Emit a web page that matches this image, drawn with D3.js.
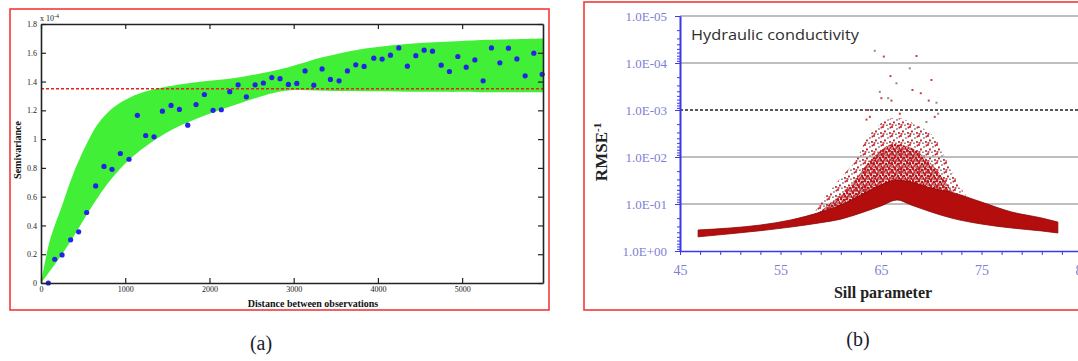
<!DOCTYPE html>
<html><head><meta charset="utf-8">
<script src="https://cdn.jsdelivr.net/npm/d3@7"></script>
<style>body{margin:0;background:#fff;overflow:hidden} svg{display:block}</style>
</head><body><svg id="c" width="1078" height="361"></svg>
<script>
// ---------- Panel (a): semivariogram ----------
const aXTicks = [0, 1000, 2000, 3000, 4000, 5000];
const aYTicks = [0, 0.2, 0.4, 0.6, 0.8, 1, 1.2, 1.4, 1.6, 1.8];
// empirical semivariance (x 1e-4)
const lagDist = [87,163,250,352,447,542,649,748,843,942,1045,1144,1243,1342,1441,1544,1643,1742,1841,1940,2043,2141,2241,2340,2438,2542,2640,2740,2838,2937,3037,3135,3239,3337,3436,3539,3638,3737,3836,3951,4050,4149,4248,4350,4450,4549,4648,4751,4849,4949,5048,5151,5249,5348,5448,5550,5650,5748,5851,5950];
const semivar = [0.00,0.165,0.195,0.30,0.356,0.49,0.675,0.81,0.79,0.90,0.86,1.165,1.025,1.016,1.194,1.234,1.206,1.097,1.24,1.31,1.20,1.204,1.33,1.377,1.294,1.377,1.39,1.428,1.42,1.38,1.387,1.474,1.375,1.488,1.415,1.405,1.474,1.516,1.505,1.5625,1.556,1.583,1.634,1.507,1.58,1.618,1.611,1.514,1.47,1.574,1.50,1.55,1.405,1.634,1.53,1.632,1.557,1.44,1.597,1.45];
// envelope of the fitted model curves (green band)
const bandUpX = [0,107,245,384,562,681,859,1057,1295,1770,2363,2937,3353,3749,4145,4540,4937,5333,5960];
const bandUpY = [0,0.30,0.53,0.76,0.99,1.11,1.22,1.29,1.34,1.39,1.43,1.50,1.57,1.62,1.65,1.67,1.68,1.69,1.70];
const bandLoX = [0,87,226,384,602,859,1176,1571,1968,2363,2759,2957,3500,4500,5960];
const bandLoY = [0,0.067,0.18,0.32,0.53,0.74,0.92,1.07,1.17,1.25,1.32,1.34,1.335,1.33,1.325];
const sillLineA = 1.35;

// ---------- Panel (b): RMSE vs sill ----------
const bXLabels = [45, 55, 65, 75, 85];
const bYLabels = [1, 1e-1, 1e-2, 1e-3, 1e-4, 1e-5];
// dense band of the cloud
const denseSill  = [46.8,50,53,56,59,61,63,65,66.6,68,70,72,75,78,81,82.6];
const denseLower = [0.50,0.43,0.37,0.31,0.25,0.21,0.155,0.11,0.082,0.105,0.148,0.199,0.267,0.324,0.375,0.414];
const denseUpper = [0.357,0.324,0.28,0.219,0.148,0.105,0.064,0.039,0.031,0.034,0.046,0.056,0.091,0.148,0.199,0.242];
// scattered part around the peak: outer (sparse) and inner (denser) limits
const speckSill  = [58.5,60,61.5,62.5,63.5,64.5,65.5,66.5,67.5,68.5,69.5,70.5,71.5,72.5,73.5,75];
const speckTop   = [0.134,0.050,0.0208,0.0116,0.00435,0.00242,0.00163,0.00148,0.00163,0.00208,0.00267,0.00435,0.0116,0.0308,0.0676,0.105];
const speckMid   = [0.171,0.095,0.052,0.030,0.0150,0.0090,0.0060,0.0052,0.0058,0.0072,0.0110,0.0180,0.036,0.070,0.120,0.17];
const speckBot   = [0.241,0.199,0.163,0.134,0.116,0.1,0.0863,0.0783,0.0863,0.1,0.116,0.134,0.155,0.18,0.209,0.241];
// isolated outlying runs
const outSill = [64.38,65.28,68.53,67.86,65.94,70.02,64.88,68.13,68.96,65.71,66.04,69.75,70.52,63.72,63.89,69.52,70.35,66.87,66.54,65.04,63.56,70.68];
const outRmse = [5.5e-5,7.3e-5,7.1e-5,1.3e-4,1.9e-4,2.3e-4,4.1e-4,3.75e-4,4.4e-4,5.6e-4,6.3e-4,6.3e-4,7.0e-4,1.0e-3,1.4e-3,1.8e-3,1.4e-3,1.2e-3,2.7e-4,5.6e-4,1.6e-3,1.2e-3];
const dashedLevel = 1e-3;

const svg = d3.select("#c");
const defs = svg.append("defs");
const serif = "'Liberation Serif','Times New Roman',serif";

// ================= Panel (a) =================
svg.append("rect").attr("x",10).attr("y",9).attr("width",539).attr("height",301)
  .attr("fill","none").attr("stroke","#f23a3a").attr("stroke-width",1.6);

const xA = d3.scaleLinear().domain([0,5960]).range([41,543]);
const yA = d3.scaleLinear().domain([0,1.8]).range([283,24]);
const gA = svg.append("g");

const upPts = bandUpX.map((x,i)=>[xA(x),yA(bandUpY[i])]);
const loPts = bandLoX.map((x,i)=>[xA(x),yA(bandLoY[i])]).reverse();
const lineGen = d3.line().curve(d3.curveCatmullRom.alpha(0.5));
gA.append("path")
  .attr("d", lineGen(upPts) + "L" + lineGen(loPts).slice(1) + "Z")
  .attr("fill","#40ef36");

gA.append("line").attr("x1",xA(0)).attr("x2",xA(5960))
  .attr("y1",yA(sillLineA)).attr("y2",yA(sillLineA))
  .attr("stroke","#e8201e").attr("stroke-width",1.6).attr("stroke-dasharray","3,2");

gA.selectAll("circle.d").data(lagDist).join("circle")
  .attr("cx",d=>xA(d)).attr("cy",(d,i)=>yA(semivar[i])).attr("r",2.6)
  .attr("fill","#2424e6");

function styleAxisA(g){
  g.selectAll("path.domain").attr("stroke","#222").attr("stroke-width",1.6);
  g.selectAll(".tick line").attr("stroke","#222").attr("stroke-width",1.2);
  g.selectAll(".tick text").attr("font-family",serif).attr("font-size",8).attr("fill","#222");
}
gA.append("g").attr("transform","translate(0,283)")
  .call(d3.axisBottom(xA).tickValues(aXTicks).tickSize(-5).tickSizeOuter(0).tickPadding(3).tickFormat(d3.format("d")))
  .call(styleAxisA);
gA.append("g").attr("transform","translate(0,24)")
  .call(d3.axisTop(xA).tickValues(aXTicks).tickSize(-5).tickSizeOuter(0).tickFormat(""))
  .call(styleAxisA);
gA.append("g").attr("transform","translate(41,0)")
  .call(d3.axisLeft(yA).tickValues(aYTicks).tickSize(-5).tickSizeOuter(0).tickPadding(4)
    .tickFormat(d=> (d===0||d===1)? String(d) : d3.format(".1f")(d)))
  .call(styleAxisA);
gA.append("g").attr("transform","translate(543,0)")
  .call(d3.axisRight(yA).tickValues(aYTicks).tickSize(-5).tickSizeOuter(0).tickFormat(""))
  .call(styleAxisA);

const exA = gA.append("text").attr("x",40).attr("y",21).attr("font-family",serif).attr("font-size",8).attr("fill","#222");
exA.append("tspan").text("x 10");
exA.append("tspan").attr("dy",-3).attr("font-size",6).text("-4");

gA.append("text").attr("transform","translate(21,150) rotate(-90)").attr("text-anchor","middle")
  .attr("font-family",serif).attr("font-weight","bold").attr("font-size",10).attr("fill","#111").text("Semivariance");
gA.append("text").attr("x",313).attr("y",307).attr("text-anchor","middle")
  .attr("font-family",serif).attr("font-weight","bold").attr("font-size",10).attr("fill","#111").text("Distance between observations");

svg.append("text").attr("x",261).attr("y",350).attr("text-anchor","middle")
  .attr("font-family",serif).attr("font-size",20).attr("fill","#1a1a2e").text("(a)");

// ================= Panel (b) =================
svg.append("rect").attr("x",584).attr("y",2).attr("width",520).attr("height",308)
  .attr("fill","none").attr("stroke","#f23a3a").attr("stroke-width",1.6);

const xB = d3.scaleLinear().domain([45,85]).range([680,1082]);
const yB = d3.scaleLog().domain([1,1e-5]).range([251,16]);
const gB = svg.append("g");

// gridlines
gB.selectAll("line.grid").data(bYLabels.filter(v=>v!==1)).join("line")
  .attr("x1",680).attr("x2",1078).attr("y1",d=>yB(d)).attr("y2",d=>yB(d))
  .attr("stroke",d=> d===dashedLevel ? "#222" : "#a8a8a8")
  .attr("stroke-width",d=> d===dashedLevel ? 1.3 : 1.5)
  .attr("stroke-dasharray",d=> d===dashedLevel ? "3,2" : null);

// speckle patterns (texture only)
function makePattern(id, size, s, dots){
  const p = defs.append("pattern").attr("id",id).attr("patternUnits","userSpaceOnUse")
    .attr("width",size).attr("height",size);
  dots.forEach(d=>p.append("rect").attr("x",d[0]).attr("y",d[1]).attr("width",s).attr("height",s).attr("fill",d[2]));
}
makePattern("speckSparse", 9, 1.9, [[0,0,"#c8323a"],[5,2,"#a0a0a0"],[2,4.5,"#c81e28"],[7,6,"#b3444a"],[4,7.5,"#8a8a8a"],[7.6,0.6,"#c81e28"],[0.5,7,"#d04048"]]);
makePattern("speckDense", 6, 2.3, [[0,0,"#c01820"],[3,0.8,"#b3121b"],[1.4,2.6,"#d03030"],[4.4,3.2,"#a80e14"],[0,4.4,"#c81e28"],[2.8,5,"#8e8e8e"],[5,5.6,"#b01015"]]);

const areaB = d3.area().curve(d3.curveMonotoneX);
gB.append("path")
  .attr("d", areaB.x((d,i)=>xB(speckSill[i])).y0((d,i)=>yB(speckBot[i])).y1((d,i)=>yB(speckTop[i]))(speckSill))
  .attr("fill","url(#speckSparse)");
gB.append("path")
  .attr("d", areaB.x((d,i)=>xB(speckSill[i])).y0((d,i)=>yB(speckBot[i])).y1((d,i)=>yB(speckMid[i]))(speckSill))
  .attr("fill","url(#speckDense)");

gB.append("path")
  .attr("d", areaB.x((d,i)=>xB(denseSill[i])).y0((d,i)=>yB(denseLower[i])).y1((d,i)=>yB(denseUpper[i]))(denseSill))
  .attr("fill","#b30d0d").attr("stroke","#8a0707").attr("stroke-width",0.8);

gB.selectAll("rect.out").data(outSill).join("rect")
  .attr("x",d=>xB(d)-1).attr("y",(d,i)=>yB(outRmse[i])-1).attr("width",2).attr("height",2)
  .attr("fill",(d,i)=> i%3===0 ? "#8c8c8c" : "#c8404a");

// axes
const axBlue = "#3b3be6", lblBlue = "#7e7ed6";
function styleAxisB(g){
  g.selectAll("path.domain").attr("stroke",axBlue).attr("stroke-width",1.6);
  g.selectAll(".tick line").attr("stroke",axBlue).attr("stroke-width",1);
  g.selectAll(".tick text").attr("font-family",serif).attr("font-size",13).attr("fill",lblBlue);
}
const minorY = [];
for (let e=-5;e<0;e++) for (let m=2;m<=9;m++) minorY.push(m*Math.pow(10,e));
gB.append("g").attr("transform","translate(680,0)")
  .call(d3.axisLeft(yB).tickValues(minorY).tickSize(3).tickSizeOuter(0).tickFormat(""))
  .call(styleAxisB);
gB.append("g").attr("transform","translate(680,0)")
  .call(d3.axisLeft(yB).tickValues(bYLabels).tickSize(5).tickSizeOuter(0).tickPadding(8)
    .tickFormat(d=>{const e=Math.round(Math.log10(d)); return "1.0E"+(e<0?"-":"+")+String(Math.abs(e)).padStart(2,"0");}))
  .call(styleAxisB);

const minorX = d3.range(45,86,2);
gB.append("g").attr("transform","translate(0,251)")
  .call(d3.axisBottom(xB).tickValues(minorX).tickSize(4).tickSizeOuter(0).tickFormat(""))
  .call(styleAxisB);
gB.append("g").attr("transform","translate(0,251)")
  .call(d3.axisBottom(xB).tickValues(bXLabels).tickSize(0).tickSizeOuter(0).tickPadding(14))
  .call(styleAxisB)
  .call(g=>g.select("path.domain").remove())
  .selectAll(".tick text").attr("font-size",14);

gB.append("text").attr("x",691).attr("y",40).attr("font-family","'Open Sans','Liberation Sans',sans-serif")
  .attr("font-size",15).attr("textLength",168).attr("lengthAdjust","spacingAndGlyphs")
  .attr("fill","#2e2e2e").text("Hydraulic conductivity");

const rl = gB.append("text").attr("transform","translate(607,152) rotate(-90)").attr("text-anchor","middle")
  .attr("font-family",serif).attr("font-weight","bold").attr("font-size",17).attr("fill","#222");
rl.append("tspan").text("RMSE");
rl.append("tspan").attr("dy",-6).attr("font-size",11).text("-1");

gB.append("text").attr("x",883).attr("y",298).attr("text-anchor","middle")
  .attr("font-family",serif).attr("font-weight","bold").attr("font-size",16).attr("fill","#222").text("Sill parameter");

svg.append("text").attr("x",858).attr("y",346).attr("text-anchor","middle")
  .attr("font-family",serif).attr("font-size",20).attr("fill","#1a1a2e").text("(b)");
</script></body></html>
